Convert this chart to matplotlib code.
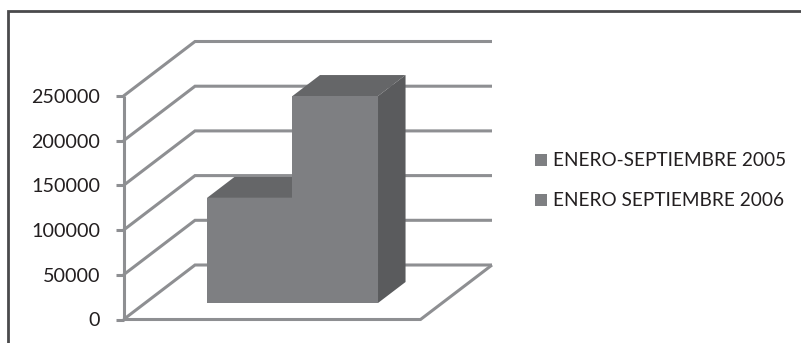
import matplotlib
matplotlib.use("Agg")
import matplotlib.pyplot as plt
from matplotlib.patches import Polygon, Rectangle

plt.rcParams['font.family'] = ['Lato', 'DejaVu Sans']

# data
categories = ["ENERO-SEPTIEMBRE 2005", "ENERO SEPTIEMBRE 2006"]
values = [117500, 231500]
tick_values = [0, 50000, 100000, 150000, 200000, 250000]

# layout (pixels)
W, H = 801, 343
AX_X0, AX_Y0, AX_Y1 = 123.5, 319.5, 96.0
FLOOR_W = 297.0
PER_PX = 250000 / (AX_Y0 - AX_Y1)
DEPTH_X = 71.5 / FLOOR_W
DEPTH_Y = 54.5 * PER_PX
BAR_X0 = 0.208
BAR_W = 0.288
BAR_D0, BAR_D1 = 0.303, 0.688

fig = plt.figure(figsize=(W / 100, H / 100), dpi=100, facecolor="white")
ax = fig.add_axes([0, 0, 1, 1])
ax.set_xlim(-AX_X0 / FLOOR_W, (W - AX_X0) / FLOOR_W)
ax.set_ylim((AX_Y0 - H) * PER_PX, AX_Y0 * PER_PX)
ax.axis("off")


def proj(x, v, d=0.0):
    return x + d * DEPTH_X, v + d * DEPTH_Y


GRID = "#8e8f92"
LW = 2.2
# gridlines: left wall and back wall
for v in tick_values:
    xs = [proj(0, v)[0], proj(0, v, 1)[0], proj(1, v, 1)[0]]
    ys = [proj(0, v)[1], proj(0, v, 1)[1], proj(1, v, 1)[1]]
    ax.plot(xs, ys, color=GRID, lw=LW, solid_capstyle="butt", solid_joinstyle="miter", zorder=1)
    ax.plot([-8 / FLOOR_W, 0], [v, v], color=GRID, lw=LW, solid_capstyle="butt", zorder=1)
    ax.text(-23.5 / FLOOR_W, v - 1.5 * PER_PX, f"{v}", ha="right", va="center", fontsize=14.2,
            color="#231f20", zorder=5)
# front axis and floor
ax.plot([0, 0], [0, tick_values[-1]], color=GRID, lw=LW, solid_capstyle="butt", zorder=1)
ax.plot([0, 1, proj(1, 0, 1)[0]], [0, 0, proj(1, 0, 1)[1]], color=GRID, lw=LW,
        solid_capstyle="butt", solid_joinstyle="miter", zorder=1)

FRONT = "#7e7f82"
TOP = "#656668"
SIDE = "#5a5b5d"
for i, v in enumerate(values):
    x0 = BAR_X0 + i * BAR_W
    x1 = x0 + BAR_W
    front = [proj(x0, 0, BAR_D0), proj(x1, 0, BAR_D0), proj(x1, v, BAR_D0), proj(x0, v, BAR_D0)]
    top = [proj(x0, v, BAR_D0), proj(x1, v, BAR_D0), proj(x1, v, BAR_D1), proj(x0, v, BAR_D1)]
    side = [proj(x1, 0, BAR_D0), proj(x1, 0, BAR_D1), proj(x1, v, BAR_D1), proj(x1, v, BAR_D0)]
    z = 2 + i
    ax.add_patch(Polygon(top, closed=True, fc=TOP, ec="none", zorder=z))
    ax.add_patch(Polygon(side, closed=True, fc=SIDE, ec="none", zorder=z))
    ax.add_patch(Polygon(front, closed=True, fc=FRONT, ec="none", zorder=z + 0.5))

# legend
for py, name in zip([159.5, 199.5], categories):
    ax.add_patch(Rectangle(((534.5 - AX_X0) / FLOOR_W, (AX_Y0 - py - 6) * PER_PX),
                           12 / FLOOR_W, 12 * PER_PX, fc=FRONT, ec="none", zorder=5))
    ax.text((553 - AX_X0) / FLOOR_W, (AX_Y0 - py - 1) * PER_PX, name, ha="left", va="center",
            fontsize=13.7, color="#231f20", zorder=5)

# outer frame: left and top edges only
fig.add_artist(plt.Line2D([7.5 / W, 7.5 / W, 1], [0, 1 - 10.5 / H, 1 - 10.5 / H],
                          color="#4a4a4c", lw=2.0, solid_joinstyle="miter"))

fig.savefig("out.png", dpi=100, facecolor="white")
